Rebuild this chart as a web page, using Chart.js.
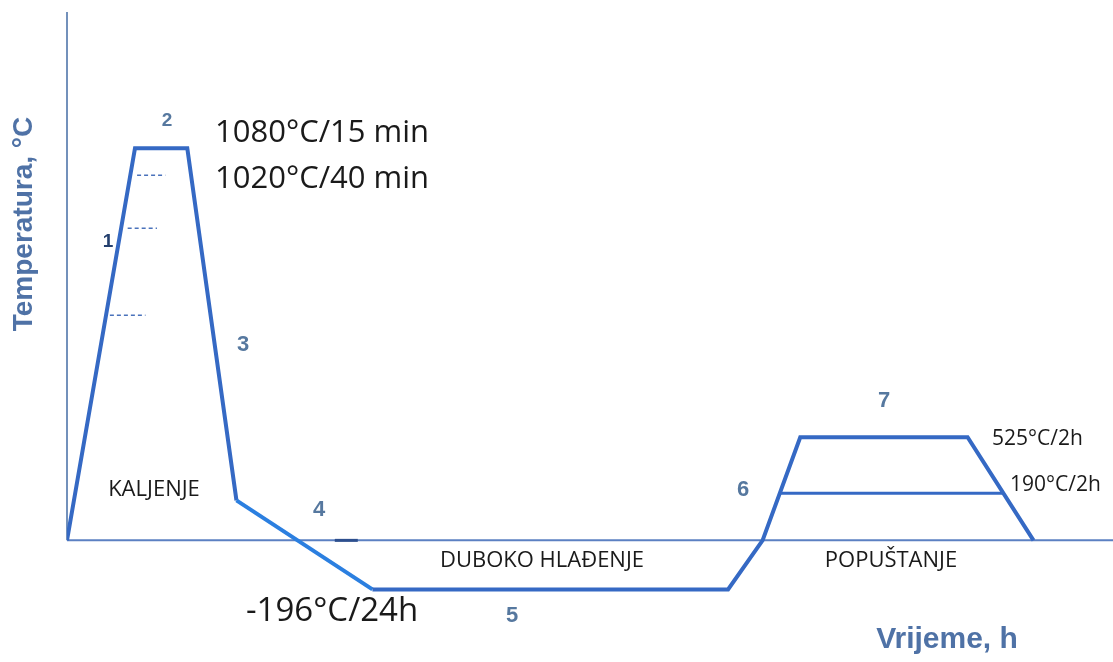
<!DOCTYPE html>
<html>
<head>
<meta charset="utf-8">
<script src="https://cdn.jsdelivr.net/npm/chart.js@4/dist/chart.umd.min.js"></script>
<style>
  html, body { margin: 0; padding: 0; background: #fff; }
  canvas { display: block; }
</style>
</head>
<body>
<canvas id="heat-chart" width="1113" height="662"></canvas>
<script>
// schematic units: time 0..100, temperature 0 = axis, 100 = hardening plateau
const cycleTime = [0, 6.5, 11.5, 16.2, 29.2, 63.2, 66.5, 70.1, 86.1, 92.4];
const cycleTemp = [0, 100, 100, 10.2, -12.5, -12.5, 0, 26.3, 26.3, 0];

const lowTemperTime = [68.2, 89.4];
const lowTemperTemp = [12.0, 12.0];

const preheatStart = [6.7, 5.8, 4.1];
const preheatEnd = [9.4, 8.6, 7.5];
const preheatTemp = [93.1, 79.6, 57.4];

const axisMarkTime = [25.6, 27.8];

const stepLabels = ["1", "2", "3", "4", "5", "6", "7"];

const lineColor = "#3569c4";
const coolColor = "#2b7fe0";
const axisColor = "#5b80c2";
const titleColor = "#4f72a6";

const toPoints = (xs, ys) => xs.map((x, i) => ({ x, y: ys[i] }));

const datasets = [{
  data: toPoints(cycleTime, cycleTemp),
  borderColor: lineColor,
  borderWidth: 4,
  pointRadius: 0,
  segment: {
    borderColor: ctx => ctx.p0DataIndex === 3 ? coolColor : lineColor
  }
}, {
  data: toPoints(lowTemperTime, lowTemperTemp),
  borderColor: lineColor,
  borderWidth: 3,
  pointRadius: 0
}, {
  data: toPoints(axisMarkTime, [0, 0]),
  borderColor: "#2d4f8e",
  borderWidth: 3,
  pointRadius: 0
}];

preheatTemp.forEach((t, i) => {
  datasets.push({
    data: [{ x: preheatStart[i], y: t }, { x: preheatEnd[i], y: t }],
    borderColor: "#4a72bb",
    borderWidth: 1.5,
    borderDash: [4, 3],
    pointRadius: 0
  });
});

const axesPlugin = {
  id: "axes",
  beforeDatasetsDraw(chart) {
    const { ctx, scales: { x, y } } = chart;
    ctx.save();
    ctx.lineWidth = 2;
    ctx.strokeStyle = "#7391bb";
    ctx.beginPath();
    ctx.moveTo(x.getPixelForValue(0), 12);
    ctx.lineTo(x.getPixelForValue(0), y.getPixelForValue(0));
    ctx.stroke();
    ctx.strokeStyle = axisColor;
    ctx.beginPath();
    ctx.moveTo(x.getPixelForValue(0), y.getPixelForValue(0));
    ctx.lineTo(x.getPixelForValue(100), y.getPixelForValue(0));
    ctx.stroke();
    ctx.restore();
  },
  afterDraw(chart) {
    const { ctx } = chart;
    ctx.save();
    ctx.textAlign = "center";
    ctx.textBaseline = "middle";

    // axis titles
    ctx.fillStyle = titleColor;
    ctx.font = "bold 30px 'Liberation Sans', Arial, sans-serif";
    ctx.fillText("Vrijeme, h", 947, 640);
    ctx.font = "bold 28px 'Liberation Sans', Arial, sans-serif";
    ctx.save();
    ctx.translate(24, 224);
    ctx.rotate(-Math.PI / 2);
    ctx.fillText("Temperatura, °C", 0, 0);
    ctx.restore();

    // step numbers
    const stepPos = [[108, 242], [167, 121], [243, 345], [319, 510], [512, 616], [743, 490], [884, 401]];
    stepLabels.forEach((s, i) => {
      ctx.fillStyle = i === 0 ? "#24406e" : "#56789f";
      ctx.font = (i < 2 ? "bold 19px" : "bold 22px") + " 'Liberation Sans', Arial, sans-serif";
      ctx.fillText(s, stepPos[i][0], stepPos[i][1]);
    });

    // notes
    ctx.fillStyle = "#1a1a1a";
    ctx.textAlign = "left";
    ctx.font = "31px 'Open Sans', sans-serif";
    ctx.fillText("1080°C/15 min", 215, 133);
    ctx.fillText("1020°C/40 min", 215, 179);
    ctx.font = "33px 'Open Sans', sans-serif";
    ctx.fillText("-196°C/24h", 246, 612);

    ctx.font = "21px 'Open Sans', sans-serif";
    ctx.fillText("525°C/2h", 992, 439);
    ctx.fillText("190°C/2h", 1010, 485);

    ctx.textAlign = "center";
    ctx.font = "22px 'Open Sans', sans-serif";
    ctx.fillText("KALJENJE", 154, 490);
    ctx.fillText("DUBOKO HLAĐENJE", 542, 561);
    ctx.fillText("POPUŠTANJE", 891, 561);
    ctx.restore();
  }
};

new Chart(document.getElementById("heat-chart"), {
  type: "scatter",
  data: { datasets },
  options: {
    responsive: false,
    animation: false,
    showLine: true,
    layout: { padding: { left: 67, right: 0, top: 11, bottom: 4 } },
    plugins: {
      legend: { display: false },
      tooltip: { enabled: false }
    },
    scales: {
      x: { type: "linear", min: 0, max: 100, display: false },
      y: { type: "linear", min: -30, max: 135, display: false }
    }
  },
  plugins: [axesPlugin]
});
</script>
</body>
</html>
